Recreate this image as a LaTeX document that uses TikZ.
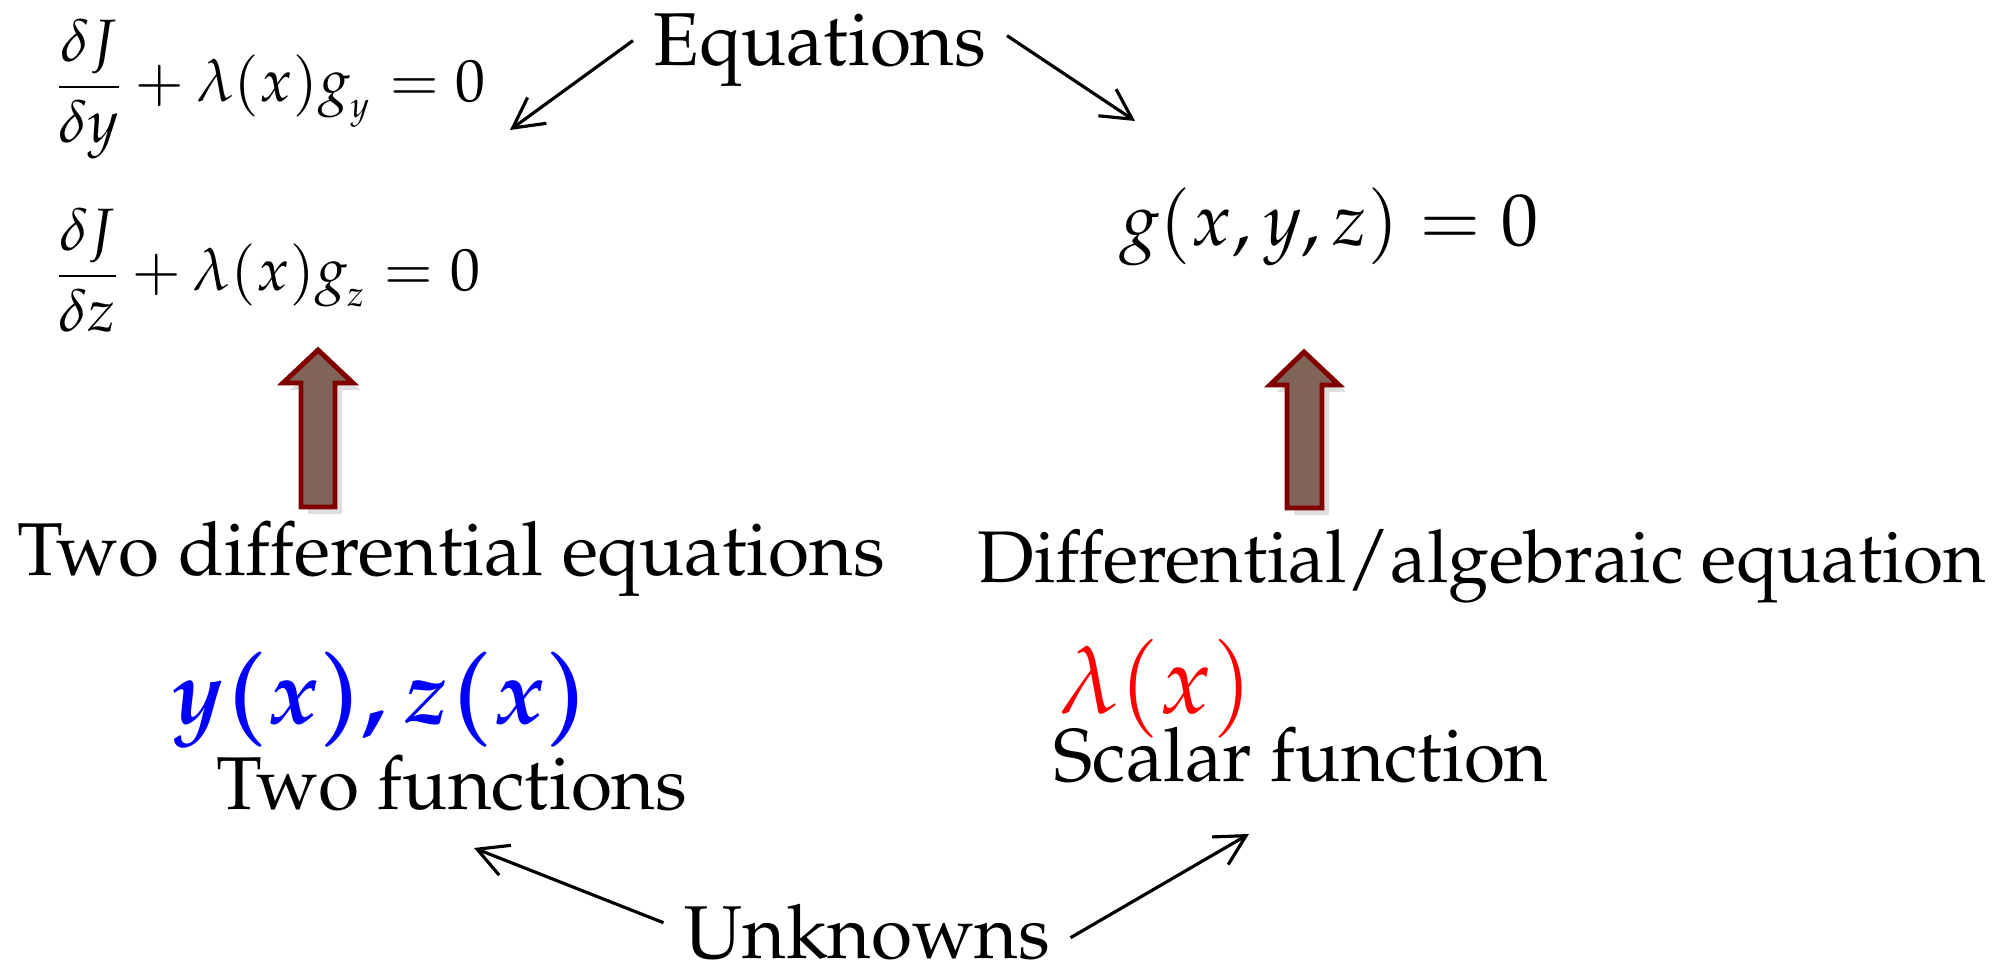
\documentclass[tikz,border=0pt]{standalone}
\usepackage[T1]{fontenc}
\usepackage{amsmath}
\usepackage{mathpazo}
\usetikzlibrary{arrows.meta,shadows}

\definecolor{arrowfill}{RGB}{128,100,88}
\definecolor{arrowedge}{RGB}{128,0,0}

\tikzset{
  label/.style={inner sep=0pt, font=\fontsize{21.3}{24}\selectfont},
  pointer/.style={->, line width=0.9pt},
  blockarrow/.style={fill=arrowfill, draw=arrowedge, line width=1.4pt, line join=miter,
    drop shadow={shadow xshift=2pt, shadow yshift=-2pt, opacity=0.25}}
}

\begin{document}
\begin{tikzpicture}[>={Straight Barb[length=3mm,width=3.2mm]}]
  \useasboundingbox (0,0) rectangle (19.99,-9.68);

  % equations on top
  \node[label, anchor=base] (eqs) at (8.20,-0.66) {Equations};
  \node[inner sep=0pt, anchor=west, font=\fontsize{17}{20}\selectfont] (eqy) at (0.54,-0.89)
    {$\dfrac{\delta J}{\delta y}+\lambda(x)g_{_y}=0$};
  \node[inner sep=0pt, anchor=west, font=\fontsize{17}{20}\selectfont] (eqz) at (0.54,-2.70)
    {$\dfrac{\delta J}{\delta z}+\lambda(x)g_{_z}=0$};
  \node[inner sep=0pt, anchor=base, font=\fontsize{21}{25}\selectfont] (geq) at (13.29,-2.46)
    {$g(x,y,z)=0$};

  \coordinate (eqyT) at (5.10,-1.30);
  \coordinate (geqT) at (11.35,-1.21);
  \draw[pointer] ([xshift=-2mm,yshift=1mm]eqs.west) -- (eqyT);
  \draw[pointer] ([xshift=2mm,yshift=1.5mm]eqs.east) -- (geqT);

  % block arrows
  \draw[blockarrow] (3.18,-3.50) -- (3.53,-3.83) -- (3.35,-3.83) -- (3.35,-5.07)
    -- (3.01,-5.07) -- (3.01,-3.83) -- (2.83,-3.83) -- cycle;
  \draw[blockarrow] (13.04,-3.52) -- (13.39,-3.85) -- (13.22,-3.85) -- (13.22,-5.08)
    -- (12.87,-5.08) -- (12.87,-3.85) -- (12.70,-3.85) -- cycle;

  \node[label, anchor=base] (twode) at (4.51,-5.76) {Two differential equations};
  \node[label, anchor=base, font=\fontsize{20.8}{24}\selectfont] (dae) at (14.82,-5.83)
    {Differential/algebraic equation};

  % unknowns
  \node[inner sep=0pt, anchor=base, text=blue, font=\fontsize{26}{30}\selectfont] (yz) at (3.80,-7.24)
    {$\boldsymbol{y(x),z(x)}$};
  \node[inner sep=0pt, anchor=base, text=red, font=\fontsize{27}{30}\selectfont] (lam) at (11.56,-7.14)
    {$\lambda(x)$};
  \node[label, anchor=base] (twofun) at (4.52,-8.10) {Two functions};
  \node[label, anchor=base] (scalar) at (13.01,-7.82) {Scalar function};
  \node[label, anchor=base] (unk) at (8.67,-9.59) {Unknowns};

  \coordinate (twofunT) at (4.74,-8.48);
  \coordinate (scalarT) at (12.49,-8.34);
  \draw[pointer] ([xshift=-2mm,yshift=1mm]unk.west) -- (twofunT);
  \draw[pointer] ([xshift=2mm,yshift=-0.5mm]unk.east) -- (scalarT);
\end{tikzpicture}
\end{document}
